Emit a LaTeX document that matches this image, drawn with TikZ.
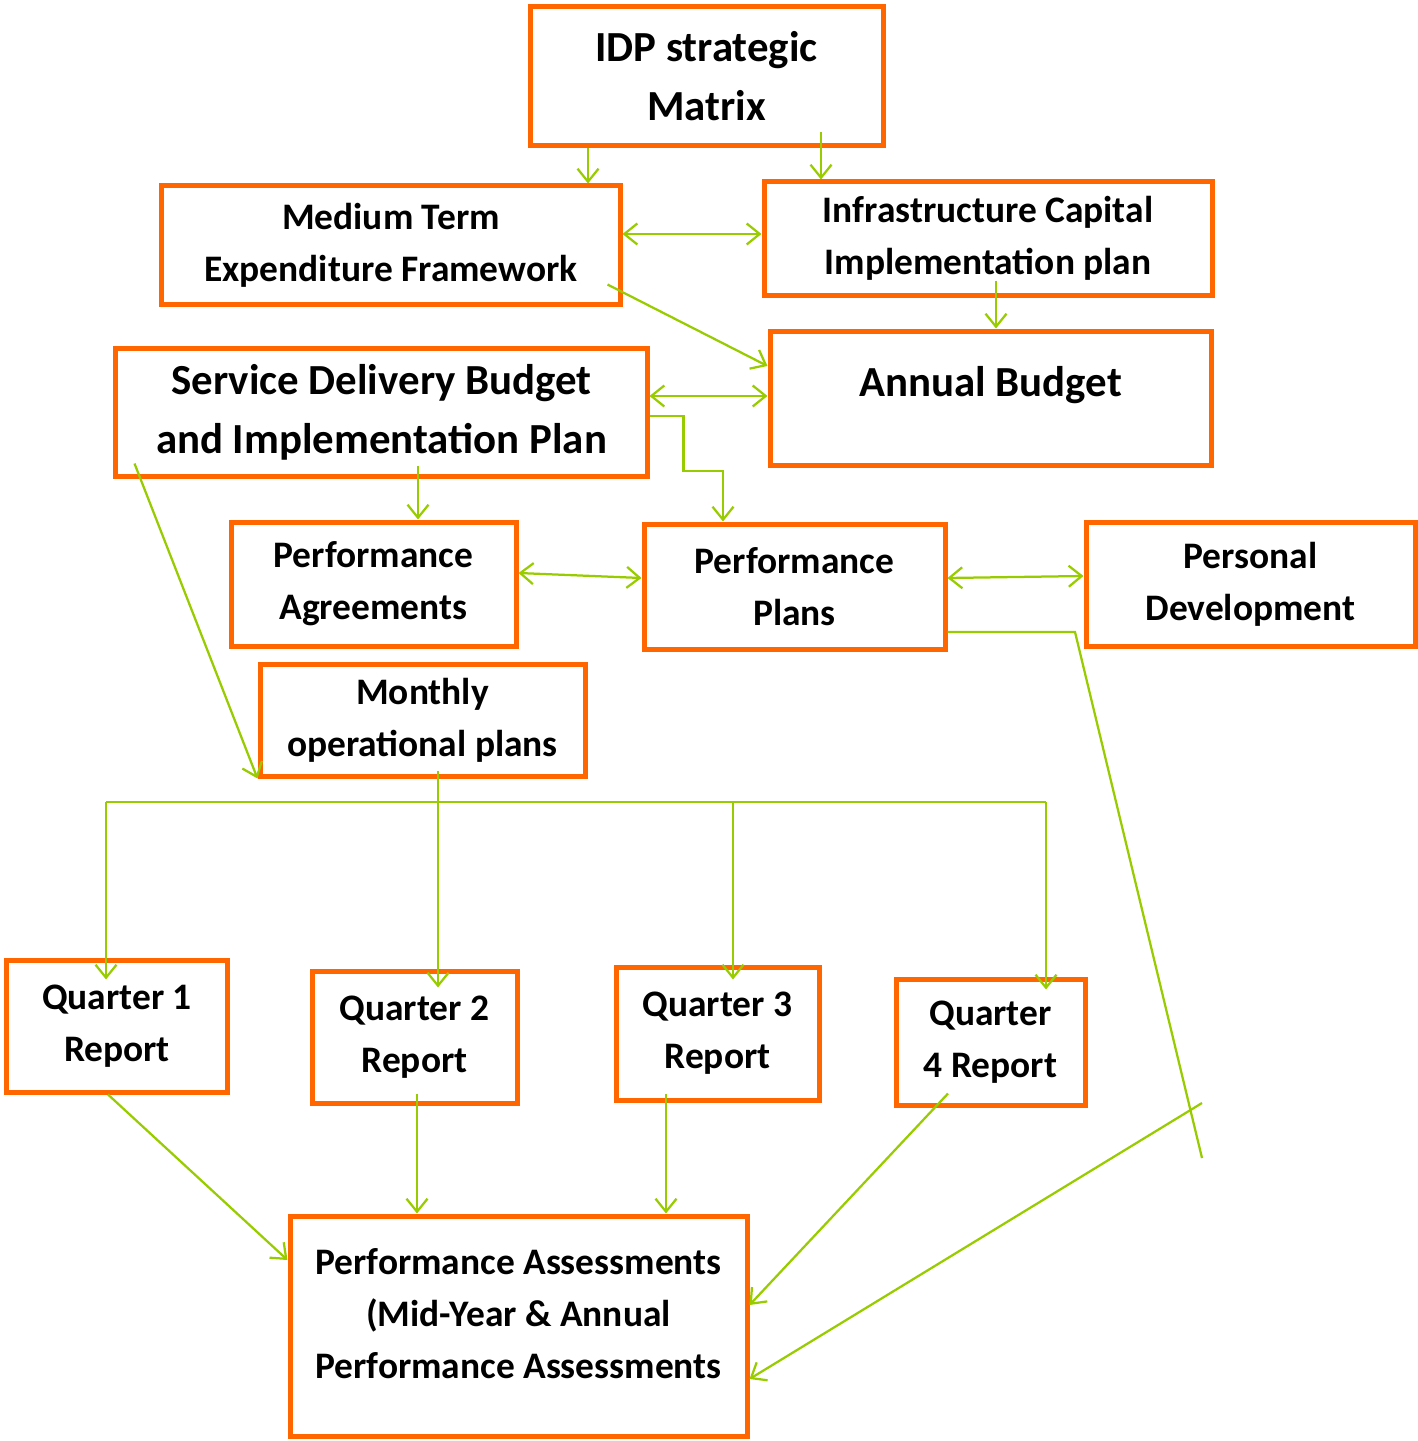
\documentclass[tikz,border=0pt]{standalone}
\usepackage{fontspec}
\setmainfont{Carlito}
\usetikzlibrary{arrows.meta}

\definecolor{boxorange}{RGB}{255,102,0}
\definecolor{linkgreen}{RGB}{153,204,0}

\tikzset{
  boxtext/.style={align=center, font=\bfseries\fontsize{21.3}{29.6}\selectfont},
  bigtext/.style={align=center, font=\bfseries\fontsize{24.4}{33.6}\selectfont},
  box/.style={boxtext, draw=boxorange, line width=1mm},
  bigbox/.style={bigtext, draw=boxorange, line width=1mm},
  link/.style={linkgreen, line width=0.45mm, >={Straight Barb[length=2.6mm,width=4.2mm]}, ->},
}

\begin{document}
\begin{tikzpicture}[x=0.2mm,y=-0.2mm]
	\useasboundingbox (0,0) rectangle (1418,1441);
	% Planning boxes
	\node[bigbox, minimum width=70.6mm, minimum height=27.8mm] (idp) at (706.5,76.5) {IDP strategic\\Matrix};
	\node[box, minimum width=91.6mm, minimum height=23.6mm] (mtef) at (391,245) {Medium Term\\Expenditure Framework};
	\node[box, minimum width=89.6mm, minimum height=22.6mm] (icip) at (988,238.5) {Infrastructure Capital\\Implementation plan};
	\node[draw=boxorange, line width=1mm, minimum width=88.2mm, minimum height=26.8mm] (budget) at (990.5,398) {};
	\node[bigtext] (budgettext) at ([yshift=2.5mm]budget.center) {Annual Budget};
	\node[bigbox, minimum width=106.2mm, minimum height=25.6mm] (sdbip) at (381.5,412) {Service Delivery Budget\\and Implementation Plan};
	\node[box, minimum width=57mm, minimum height=24.8mm] (pagree) at (373.5,584) {Performance\\Agreements};
	\node[box, minimum width=60.2mm, minimum height=25mm] (pplans) at (794.5,586.5) {Performance\\Plans};
	\node[box, minimum width=65.8mm, minimum height=24.8mm] (pdev) at (1250.5,584) {Personal\\Development};
	\node[box, minimum width=65mm, minimum height=22.4mm] (monthly) at (422.5,720) {Monthly\\operational plans};
	% Quarterly reports
	\node[box, minimum width=44mm, minimum height=26.4mm] (q1) at (117,1026) {Quarter 1\\Report};
	\node[box, minimum width=41mm, minimum height=26.4mm] (q2) at (414.5,1037) {Quarter 2\\Report};
	\node[box, minimum width=40.6mm, minimum height=26.6mm] (q3) at (717.5,1033.5) {Quarter 3\\Report};
	\node[box, minimum width=37.8mm, minimum height=25.2mm] (q4) at (990.5,1042) {Quarter\\4 Report};
	\node[draw=boxorange, line width=1mm, minimum width=91.4mm, minimum height=44mm] (pa) at (518.5,1326) {};
	\node[boxtext] (patext) at ([yshift=2.5mm]pa.center) {Performance Assessments\\(Mid-Year \& Annual\\Performance Assessments};
	% Links between the planning boxes
	\draw[link] (idp.south -| 588,0) -- (mtef.north -| 588,0);
	\draw[link] (idp.south -| 821,0) ++(0,-16) -- (icip.north -| 821,0);
	\draw[link,<->] (mtef.east |- 0,234) -- (icip.west |- 0,234);
	\draw[link] (mtef.south east) ++(-15,-22) -- (budget.west |- 0,366);
	\draw[link] (icip.south -| 996,0) ++(0,-17) -- (budget.north -| 996,0);
	\draw[link,<->] (sdbip.east |- 0,396) -- (budget.west |- 0,396);
	\draw[link] (sdbip.east |- 0,416) -- ++(34,0) -- ++(0,55) -| (pplans.north -| 723,0);
	\draw[link] (sdbip.south -| 418,0) ++(0,-13) -- (pagree.north -| 418,0);
	\draw[link] (sdbip.south west) ++(21,-15) -- (monthly.south west);
	\draw[link,<->] (pagree.east |- 0,573) -- (pplans.west |- 0,578);
	\draw[link,<->] (pplans.east |- 0,578) -- (pdev.west |- 0,576);
	% Loose line on the right
	\coordinate (loose) at (1202,1158);
	\coordinate (loosetop) at (1202,1103);
	\draw[link,-] (pplans.east |- 0,632) -- (1075,632) -- (loose);
	\draw[link] (loosetop) -- (pa.east |- 0,1379);
	% Monthly plans to the quarters
	\coordinate (barL) at (106,802);
	\coordinate (barR) at (1046,802);
	\draw[link,-] (barL) -- (barR);
	\draw[link] (barL) -- (q1.north -| barL) -- ++(0,22);
	\draw[link] (monthly.south -| 438,0) ++(0,-8) -- (q2.north -| 438,0) -- ++(0,19);
	\draw[link] (barL -| 733,0) -- (q3.north -| 733,0) -- ++(0,15);
	\draw[link] (barR) -- (q4.north -| barR) -- ++(0,13);
	% Quarters to the assessments
	\draw[link] (q1.south -| 108,0) -- (pa.west |- 0,1260);
	\draw[link] (q2.south -| 417,0) ++(0,-12) -- (pa.north -| 417,0);
	\draw[link] (q3.south -| 666,0) ++(0,-9) -- (pa.north -| 666,0);
	\draw[link] (q4.south -| 948,0) ++(0,-14) -- (pa.east |- 0,1305);
\end{tikzpicture}
\end{document}
